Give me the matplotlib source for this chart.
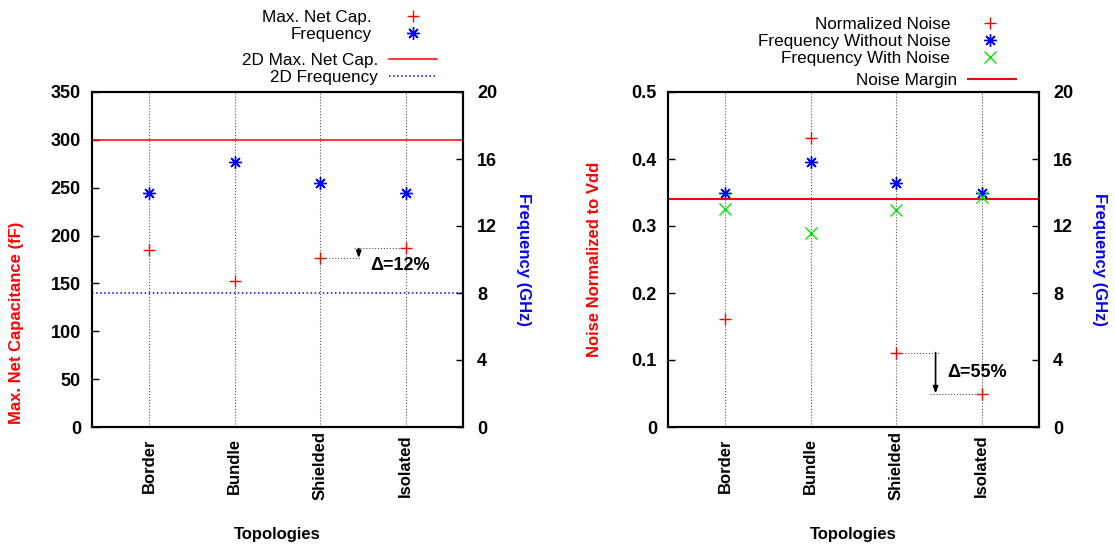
import numpy as np
import matplotlib
matplotlib.use("Agg")
import matplotlib.pyplot as plt

plt.rcParams['font.family'] = ['Liberation Sans', 'DejaVu Sans']

# data
topologies = ["Border", "Bundle", "Shielded", "Isolated"]
net_cap = [185, 152.5, 176.5, 186.5]          # fF
freq_left = [13.95, 15.8, 14.55, 13.95]       # GHz
cap_2d = 300
freq_2d = 8.0

noise = [0.161, 0.431, 0.111, 0.050]
freq_no_noise = [13.95, 15.8, 14.55, 13.95]
freq_with_noise = [13.0, 11.6, 12.95, 13.75]
noise_margin = 0.34

cap_ticks = [0, 50, 100, 150, 200, 250, 300, 350]
freq_ticks = [0, 4, 8, 12, 16, 20]
noise_ticks = [0, 0.1, 0.2, 0.3, 0.4, 0.5]
noise_tick_labels = ["0", "0.1", "0.2", "0.3", "0.4", "0.5"]

RED = "#ff0000"
BLUE = "#0000ff"
GREEN = "#00e600"
ASTER = (8, 2, 0)

W, H = 1115, 550
fig = plt.figure(figsize=(W / 100, H / 100), dpi=100)


def px_rect(x0, x1, y0, y1):
    return [x0 / W, 1 - y1 / H, (x1 - x0) / W, (y1 - y0) / H]


def style_axes(ax, ax2):
    x = np.arange(1, len(topologies) + 1)
    ax.set_xlim(0.33, 4.67)
    ax.set_xticks(x)
    ax.set_xticklabels(topologies, rotation=90, va="center", ha="center",
                       fontsize=12, fontweight="bold")
    ax.tick_params(axis="x", length=0, pad=28)
    ax.xaxis.grid(True, linestyle=":", color="#555555", linewidth=0.8)
    for a in (ax, ax2):
        a.tick_params(axis="y", direction="in", length=5, width=1,
                      labelsize=13, pad=8)
        for lab in a.get_yticklabels():
            lab.set_fontweight("bold")
        for s in a.spines.values():
            s.set_linewidth(1.5)
    ax2.tick_params(axis="y", pad=10)
    ax.set_xlabel("Topologies", fontsize=12, fontweight="bold", va="center")
    ax.xaxis.set_label_coords(0.5, -0.322)
    return x


# ---------------- left panel ----------------
ax1 = fig.add_axes(px_rect(92, 463, 92, 427))
ax1b = ax1.twinx()
ax1.set_ylim(0, 350)
ax1.set_yticks(cap_ticks)
ax1b.set_ylim(0, 20)
ax1b.set_yticks(freq_ticks)
x = style_axes(ax1, ax1b)

h_cap, = ax1.plot(x, net_cap, linestyle="none", marker="+", color=RED,
                  markersize=8, markeredgewidth=1, label="Max. Net Cap.")
h_freq, = ax1b.plot(x, freq_left, linestyle="none", marker=ASTER, color=BLUE,
                    markersize=9, markeredgewidth=1, label="Frequency")
h_cap2d = ax1.axhline(cap_2d, color=RED, linewidth=1.1, label="2D Max. Net Cap.")
h_freq2d = ax1b.axhline(freq_2d, color=BLUE, linewidth=1.1, linestyle=":",
                        label="2D Frequency")

# delta annotation
ax1.plot([3, 3.47], [net_cap[2], net_cap[2]], ":", color="#555555", lw=0.8)
ax1.plot([3.39, 4], [net_cap[3], net_cap[3]], ":", color="#555555", lw=0.8)
ax1.annotate("", xy=(3.45, net_cap[2]), xytext=(3.45, net_cap[3]),
             arrowprops=dict(arrowstyle="-|>,head_length=0.4,head_width=0.15",
                             color="black", lw=1.2, shrinkA=0, shrinkB=0))
ax1.text(3.59, 169, "\u0394=12%", fontsize=13, fontweight="bold", va="center")

ax1.set_ylabel("Max. Net Capacitance (fF)", color=RED, fontsize=12,
               fontweight="bold", va="center", ha="center")
ax1.yaxis.set_label_coords(-0.2035, 0.31)
ax1b.set_ylabel("Frequency (GHz)", color=BLUE, fontsize=12, fontweight="bold",
                rotation=-90, va="center", ha="center")
ax1b.yaxis.set_label_coords(1.162, 0.5)

leg_kw = dict(frameon=False, markerfirst=False, alignment="right",
              fontsize=12.3, borderpad=0, borderaxespad=0, handlelength=2.8,
              labelspacing=0.12, bbox_transform=fig.transFigure, loc="upper right")
fig.legend(handles=[h_cap, h_freq], bbox_to_anchor=(437 / W, 1 - 10 / H),
           handletextpad=1.0, **leg_kw)
fig.legend(handles=[h_cap2d, h_freq2d], bbox_to_anchor=(437 / W, 1 - 53 / H),
           handletextpad=0.64, **leg_kw)

# ---------------- right panel ----------------
ax2 = fig.add_axes(px_rect(668, 1039, 92, 427))
ax2b = ax2.twinx()
ax2.set_ylim(0, 0.5)
ax2.set_yticks(noise_ticks)
ax2.set_yticklabels(noise_tick_labels)
ax2b.set_ylim(0, 20)
ax2b.set_yticks(freq_ticks)
x = style_axes(ax2, ax2b)

h_noise, = ax2.plot(x, noise, linestyle="none", marker="+", color=RED,
                    markersize=8, markeredgewidth=1, label="Normalized Noise")
h_fnn, = ax2b.plot(x, freq_no_noise, linestyle="none", marker=ASTER, color=BLUE,
                   markersize=9, markeredgewidth=1, label="Frequency Without Noise")
h_fwn, = ax2b.plot(x, freq_with_noise, linestyle="none", marker="x", color=GREEN,
                   markersize=8, markeredgewidth=1, label="Frequency With Noise")
h_nm = ax2.axhline(noise_margin, color=RED, linewidth=1.5, label="Noise Margin")

ax2.plot([3, 3.51], [noise[2], noise[2]], ":", color="#555555", lw=0.8)
ax2.plot([3.40, 4], [noise[3], noise[3]], ":", color="#555555", lw=0.8)
ax2.annotate("", xy=(3.46, noise[3]), xytext=(3.46, noise[2]),
             arrowprops=dict(arrowstyle="-|>,head_length=0.4,head_width=0.15",
                             color="black", lw=1.2, shrinkA=0, shrinkB=0))
ax2.text(3.6, 0.081, "\u0394=55%", fontsize=13, fontweight="bold", va="center")

ax2.set_ylabel("Noise Normalized to Vdd", color=RED, fontsize=12,
               fontweight="bold", va="center", ha="center")
ax2.yaxis.set_label_coords(-0.197, 0.5)
ax2b.set_ylabel("Frequency (GHz)", color=BLUE, fontsize=12, fontweight="bold",
                rotation=-90, va="center", ha="center")
ax2b.yaxis.set_label_coords(1.164, 0.5)

fig.legend(handles=[h_noise, h_fnn, h_fwn], bbox_to_anchor=(1013.5 / W, 1 - 17 / H),
           handletextpad=0.9, **leg_kw)
fig.legend(handles=[h_nm], bbox_to_anchor=(1016 / W, 1 - 73 / H),
           handletextpad=0.64, **leg_kw)

fig.savefig("out.png", dpi=100)
